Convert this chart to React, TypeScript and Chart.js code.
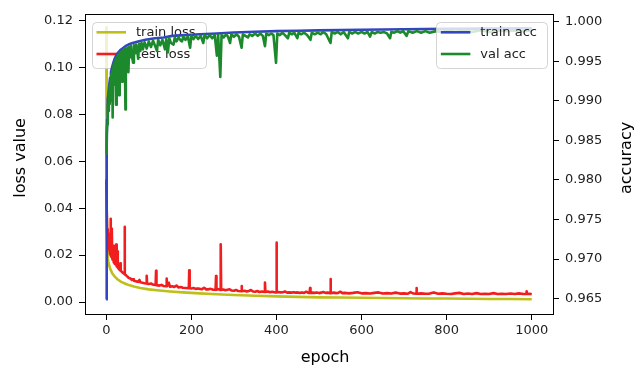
import React, { useEffect, useRef } from 'react';
import { Chart, registerables } from 'chart.js';

Chart.register(...registerables);

const FONT = "'DejaVu Sans', sans-serif";

const epochTicks = [0, 200, 400, 600, 800, 1000];
const lossTicks = [0, 0.02, 0.04, 0.06, 0.08, 0.1, 0.12];
const accTicks = [0.965, 0.97, 0.975, 0.98, 0.985, 0.99, 0.995, 1.0];

const seriesNames = ['train loss', 'test loss', 'train acc', 'val acc'];
const seriesColors = ['#bfbf1a', '#f01e1e', '#3346c0', '#1c8a2c'];

// [epoch, value]
const trainLoss: [number, number][] = [
  [0, 0.117], [1, 0.04], [2, 0.027], [3, 0.022], [4, 0.019], [5, 0.0172], [7, 0.0155], [10, 0.0138],
  [14, 0.0123], [20, 0.0108], [27, 0.0096], [35, 0.0086], [45, 0.0078], [55, 0.0071], [65, 0.0066],
  [80, 0.006], [100, 0.0054], [125, 0.0049], [150, 0.0045], [180, 0.0041], [220, 0.0037], [260, 0.0033],
  [300, 0.003], [350, 0.0027], [400, 0.0024], [450, 0.0022], [500, 0.002], [550, 0.0019], [600, 0.0018],
  [650, 0.0017], [700, 0.0016], [750, 0.0015], [800, 0.0015], [850, 0.0014], [900, 0.0013], [950, 0.0013],
  [1000, 0.0012],
];

const testLoss: [number, number][] = [
  [0, 0.052], [1, 0.04], [2, 0.031], [3, 0.027], [4, 0.025], [5, 0.0235], [6, 0.0225], [7, 0.029],
  [8, 0.0215], [9, 0.0205], [10, 0.0355], [11, 0.0198], [12, 0.0192], [13, 0.0313], [14, 0.0186],
  [15, 0.018], [16, 0.024], [17, 0.0174], [18, 0.017], [19, 0.0166], [20, 0.0163], [22, 0.016],
  [23, 0.0245], [24, 0.0155], [25, 0.0152], [26, 0.0216], [27, 0.0148], [28, 0.0145], [30, 0.014],
  [32, 0.0137], [33, 0.0165], [34, 0.0133], [36, 0.013], [38, 0.0126], [40, 0.0123], [42, 0.0121],
  [43, 0.032], [44, 0.0118], [46, 0.0115], [48, 0.0111], [50, 0.0108], [52, 0.0104], [55, 0.0101],
  [58, 0.0099], [60, 0.0094], [63, 0.0097], [65, 0.0091], [70, 0.0088], [75, 0.0086], [78, 0.0094],
  [80, 0.0084], [85, 0.0082], [90, 0.008], [94, 0.0079], [95, 0.0112], [96, 0.0078], [100, 0.0077],
  [105, 0.0079], [110, 0.0074], [116, 0.0073], [117, 0.0133], [118, 0.0072], [125, 0.007], [130, 0.0073],
  [135, 0.0068], [141, 0.0067], [142, 0.01], [143, 0.0067], [147, 0.0082], [150, 0.0065], [155, 0.0067],
  [160, 0.0064], [165, 0.007], [170, 0.0062], [175, 0.0064], [180, 0.0061], [187, 0.006], [194, 0.0059],
  [195, 0.0135], [196, 0.0059], [200, 0.0058], [205, 0.006], [210, 0.0056], [215, 0.0058], [220, 0.0056],
  [225, 0.0055], [230, 0.0061], [235, 0.0054], [240, 0.0054], [245, 0.0056], [250, 0.0053], [257, 0.0052],
  [258, 0.0111], [259, 0.0052], [263, 0.0055], [268, 0.0051], [269, 0.0246], [270, 0.0051], [275, 0.0053],
  [280, 0.005], [285, 0.0052], [290, 0.0054], [295, 0.0049], [300, 0.0048], [305, 0.0051], [310, 0.0047],
  [317, 0.0046], [318, 0.0068], [319, 0.0046], [325, 0.0048], [330, 0.0045], [335, 0.0047], [340, 0.0051],
  [345, 0.0045], [350, 0.0044], [355, 0.0047], [360, 0.0043], [366, 0.0045], [372, 0.0043], [373, 0.0083],
  [374, 0.0043], [380, 0.0045], [385, 0.0042], [390, 0.0044], [395, 0.0042], [399, 0.0041], [400, 0.0253],
  [401, 0.0041], [405, 0.0043], [410, 0.0041], [415, 0.0042], [420, 0.0045], [425, 0.004], [430, 0.0041],
  [435, 0.004], [440, 0.0042], [445, 0.004], [450, 0.0041], [455, 0.0039], [460, 0.0041], [465, 0.0039],
  [470, 0.0044], [475, 0.0039], [478, 0.0039], [479, 0.006], [480, 0.0039], [485, 0.004], [490, 0.0039],
  [495, 0.0041], [500, 0.0038], [505, 0.004], [510, 0.0043], [515, 0.0039], [520, 0.004], [526, 0.0038],
  [527, 0.0098], [528, 0.0038], [535, 0.004], [540, 0.0038], [545, 0.0039], [550, 0.0044], [555, 0.0038],
  [560, 0.0039], [570, 0.0037], [580, 0.0039], [590, 0.0042], [600, 0.0037], [610, 0.0038], [620, 0.0036],
  [630, 0.0039], [640, 0.0041], [650, 0.0036], [660, 0.0038], [670, 0.0036], [680, 0.004], [690, 0.0036],
  [700, 0.0037], [708, 0.0035], [715, 0.0042], [722, 0.0036], [728, 0.0035], [729, 0.006], [730, 0.0035],
  [740, 0.0037], [750, 0.0035], [760, 0.0036], [770, 0.0041], [780, 0.0035], [790, 0.0037], [800, 0.0035],
  [810, 0.0034], [820, 0.0037], [830, 0.0039], [840, 0.0034], [850, 0.0036], [860, 0.0034], [870, 0.0038],
  [880, 0.0034], [890, 0.0035], [900, 0.0034], [910, 0.0038], [920, 0.0034], [930, 0.0035], [940, 0.0034],
  [950, 0.0036], [960, 0.0034], [970, 0.0037], [980, 0.0034], [987, 0.0034], [988, 0.0046], [989, 0.0034],
  [995, 0.0035], [1000, 0.0033],
];

const trainAcc: [number, number][] = [
  [0, 0.9649], [1, 0.9842], [2, 0.9876], [3, 0.9893], [4, 0.9902], [5, 0.9909], [7, 0.992], [9, 0.9929],
  [11, 0.9936], [13, 0.9941], [16, 0.9947], [19, 0.9952], [23, 0.9957], [28, 0.9961], [33, 0.9964],
  [38, 0.9966], [45, 0.9969], [52, 0.9971], [62, 0.9973], [75, 0.9975], [92, 0.9977], [115, 0.9979],
  [135, 0.998], [155, 0.9982], [185, 0.9983], [220, 0.9984], [260, 0.9985], [300, 0.99862], [350, 0.99872],
  [400, 0.9988], [450, 0.99885], [500, 0.9989], [600, 0.99897], [700, 0.99903], [800, 0.99908],
  [900, 0.99912], [1000, 0.99916],
];

const valAcc: [number, number][] = [
  [0, 0.9833], [1, 0.9858], [2, 0.987], [3, 0.9884], [4, 0.9895], [5, 0.9887], [6, 0.991], [7, 0.9896],
  [8, 0.992], [9, 0.9905], [10, 0.9928], [11, 0.9912], [12, 0.9934], [13, 0.99], [14, 0.9938], [15, 0.9879],
  [16, 0.9942], [17, 0.9925], [18, 0.9946], [19, 0.993], [20, 0.9949], [21, 0.992], [22, 0.9952],
  [23, 0.9895], [24, 0.9954], [25, 0.9935], [26, 0.9956], [27, 0.9938], [28, 0.9958], [29, 0.9942],
  [30, 0.9907], [31, 0.996], [32, 0.994], [33, 0.9961], [34, 0.993], [35, 0.9962], [36, 0.9945],
  [37, 0.9924], [38, 0.9963], [39, 0.9948], [40, 0.9964], [41, 0.994], [42, 0.9965], [43, 0.995],
  [44, 0.9966], [45, 0.9889], [46, 0.9966], [48, 0.9955], [50, 0.9967], [52, 0.9936], [54, 0.9968],
  [56, 0.9955], [58, 0.9969], [60, 0.9958], [63, 0.9948], [65, 0.997], [68, 0.996], [70, 0.9971],
  [73, 0.9962], [75, 0.9953], [77, 0.9972], [80, 0.9963], [83, 0.9973], [86, 0.9965], [90, 0.9974],
  [95, 0.9966], [100, 0.9975], [105, 0.9968], [110, 0.9976], [115, 0.9969], [119, 0.9963], [122, 0.9977],
  [127, 0.997], [132, 0.9977], [138, 0.9965], [141, 0.9978], [145, 0.9961], [148, 0.9979], [152, 0.9973],
  [158, 0.9971], [161, 0.998], [165, 0.9975], [170, 0.998], [175, 0.9976], [178, 0.9975], [181, 0.9981],
  [186, 0.9977], [192, 0.9981], [197, 0.9967], [200, 0.9982], [205, 0.9978], [210, 0.9982], [216, 0.9978],
  [222, 0.9982], [228, 0.9973], [231, 0.9983], [237, 0.9979], [243, 0.9983], [249, 0.9979], [255, 0.9983],
  [260, 0.9957], [263, 0.9983], [268, 0.993], [271, 0.9983], [276, 0.998], [282, 0.9984], [286, 0.9981],
  [291, 0.9973], [294, 0.9984], [300, 0.9981], [306, 0.9984], [312, 0.9981], [318, 0.9967], [321, 0.9984],
  [327, 0.9982], [333, 0.998], [337, 0.9984], [343, 0.9982], [350, 0.9985], [356, 0.9982], [362, 0.9985],
  [368, 0.9982], [373, 0.9969], [376, 0.9985], [382, 0.9983], [388, 0.9985], [393, 0.9983], [399, 0.9948],
  [402, 0.9985], [408, 0.9983], [414, 0.9986], [420, 0.9983], [427, 0.9979], [430, 0.9986], [436, 0.9984],
  [442, 0.9986], [449, 0.9979], [452, 0.9986], [458, 0.9984], [465, 0.9986], [472, 0.9983], [480, 0.9977],
  [483, 0.9986], [490, 0.9984], [497, 0.9986], [504, 0.9984], [510, 0.9987], [517, 0.9984], [527, 0.9973],
  [530, 0.9987], [537, 0.9985], [544, 0.9987], [551, 0.9984], [558, 0.9987], [568, 0.9979], [571, 0.9987],
  [578, 0.9985], [585, 0.9987], [592, 0.9985], [600, 0.9987], [607, 0.9985], [614, 0.9987], [620, 0.9981],
  [624, 0.9987], [631, 0.9985], [638, 0.9987], [645, 0.9986], [652, 0.9987], [660, 0.9985], [667, 0.9979],
  [670, 0.9987], [677, 0.9986], [684, 0.9988], [691, 0.9986], [698, 0.9988], [706, 0.9982], [710, 0.9988],
  [720, 0.9986], [730, 0.9988], [740, 0.9986], [750, 0.9988], [760, 0.9986], [775, 0.9988], [790, 0.9987],
  [805, 0.9989], [820, 0.9987], [840, 0.9989], [860, 0.9987], [880, 0.9989], [900, 0.9987], [920, 0.9989],
  [940, 0.9988], [960, 0.9989], [980, 0.9988], [1000, 0.9989],
];

function roundRectPath(ctx: CanvasRenderingContext2D, x: number, y: number, w: number, h: number, r: number) {
  ctx.beginPath();
  ctx.moveTo(x + r, y);
  ctx.lineTo(x + w - r, y);
  ctx.arcTo(x + w, y, x + w, y + r, r);
  ctx.lineTo(x + w, y + h - r);
  ctx.arcTo(x + w, y + h, x + w - r, y + h, r);
  ctx.lineTo(x + r, y + h);
  ctx.arcTo(x, y + h, x, y + h - r, r);
  ctx.lineTo(x, y + r);
  ctx.arcTo(x, y, x + r, y, r);
  ctx.closePath();
}

function drawLegend(chart: any, side: 'left' | 'right', idx: number[]) {
  const { ctx, chartArea } = chart;
  ctx.save();
  ctx.font = `13px ${FONT}`;
  const tw = Math.max(...idx.map((i) => ctx.measureText(seriesNames[i]).width));
  const w = 44 + tw + 10;
  const h = 46;
  const x = side === 'left' ? chartArea.left + 7 : chartArea.right - 6 - w;
  const y = chartArea.top + 8;
  roundRectPath(ctx, Math.round(x) + 0.5, Math.round(y) + 0.5, Math.round(w), h, 4);
  ctx.fillStyle = 'rgba(255,255,255,0.8)';
  ctx.fill();
  ctx.strokeStyle = 'rgba(204,204,204,0.85)';
  ctx.lineWidth = 1;
  ctx.stroke();
  idx.forEach((si, k) => {
    const cy = y + 10.5 + k * 21.7;
    ctx.strokeStyle = seriesColors[si];
    ctx.lineWidth = 2.6;
    ctx.beginPath();
    ctx.moveTo(x + 4.5, cy);
    ctx.lineTo(x + 34, cy);
    ctx.stroke();
    ctx.fillStyle = '#222';
    ctx.textAlign = 'left';
    ctx.textBaseline = 'middle';
    ctx.fillText(seriesNames[si], x + 44, cy + 0.5);
  });
  ctx.restore();
}

const decorPlugin = {
  id: 'decor',
  afterDatasetDraw(chart: any, args: any) {
    if (args.index === 1) drawLegend(chart, 'left', [0, 1]);
  },
  afterDatasetsDraw(chart: any) {
    drawLegend(chart, 'right', [2, 3]);
  },
  afterDraw(chart: any) {
    const { ctx, chartArea } = chart;
    const { left, right, top, bottom } = chartArea;
    ctx.save();
    ctx.strokeStyle = '#000';
    ctx.lineWidth = 1;
    ctx.strokeRect(Math.round(left) + 0.5, Math.round(top) + 0.5, Math.round(right - left), Math.round(bottom - top));
    ctx.fillStyle = '#000';
    ctx.font = `16px ${FONT}`;
    ctx.textAlign = 'center';
    ctx.textBaseline = 'middle';
    const midY = (top + bottom) / 2 - 6;
    ctx.save();
    ctx.translate(21, midY);
    ctx.rotate(-Math.PI / 2);
    ctx.fillText('loss value', 0, 0);
    ctx.restore();
    ctx.save();
    ctx.translate(chart.width - 9, midY);
    ctx.rotate(-Math.PI / 2);
    ctx.fillText('accuracy', 0, 0);
    ctx.restore();
    ctx.fillText('epoch', (left + right) / 2 + 6, chart.height - 13);
    ctx.restore();
  },
};

const tickFont = { family: FONT, size: 13 };

export default function App() {
  const ref = useRef<HTMLCanvasElement | null>(null);
  useEffect(() => {
    if (!ref.current) return;
    const mk = (pts: [number, number][]) => pts.map(([x, y]) => ({ x, y }));
    const chart = new Chart(ref.current, {
      type: 'line',
      data: {
        datasets: [
          { label: seriesNames[0], data: mk(trainLoss), yAxisID: 'yLoss', borderColor: seriesColors[0], order: 4 },
          { label: seriesNames[1], data: mk(testLoss), yAxisID: 'yLoss', borderColor: seriesColors[1], order: 3 },
          { label: seriesNames[2], data: mk(trainAcc), yAxisID: 'yAcc', borderColor: seriesColors[2], order: 2 },
          { label: seriesNames[3], data: mk(valAcc), yAxisID: 'yAcc', borderColor: seriesColors[3], order: 1 },
        ].map((d) => ({
          ...d,
          borderWidth: 2.6,
          pointRadius: 0,
          pointHoverRadius: 0,
          fill: false,
          tension: 0,
          borderJoinStyle: 'round' as const,
        })),
      },
      options: {
        responsive: false,
        animation: false,
        events: [],
        layout: { padding: { top: 7, left: 0, right: 0, bottom: 0 } },
        plugins: { legend: { display: false }, tooltip: { enabled: false } },
        scales: {
          x: {
            type: 'linear',
            min: -50,
            max: 1050,
            afterBuildTicks: (s: any) => {
              s.ticks = epochTicks.map((v) => ({ value: v }));
            },
            afterFit: (s: any) => {
              s.height = 57;
            },
            ticks: {
              font: tickFont,
              color: '#222',
              padding: 3,
              maxRotation: 0,
              autoSkip: false,
              callback: (v: any) => String(v),
            },
            grid: { drawOnChartArea: false, drawTicks: true, tickLength: 6, color: '#000' },
            border: { display: false },
          },
          yLoss: {
            type: 'linear',
            position: 'left',
            min: -0.0051,
            max: 0.1228,
            afterBuildTicks: (s: any) => {
              s.ticks = lossTicks.map((v) => ({ value: v }));
            },
            afterFit: (s: any) => {
              s.width = 85;
            },
            ticks: {
              font: tickFont,
              color: '#222',
              padding: 6,
              autoSkip: false,
              callback: (v: any) => Number(v).toFixed(2),
            },
            grid: { drawOnChartArea: false, drawTicks: true, tickLength: 6, color: '#000' },
            border: { display: false },
          },
          yAcc: {
            type: 'linear',
            position: 'right',
            min: 0.96306,
            max: 1.00099,
            afterBuildTicks: (s: any) => {
              s.ticks = accTicks.map((v) => ({ value: v }));
            },
            afterFit: (s: any) => {
              s.width = 83;
            },
            ticks: {
              font: tickFont,
              color: '#222',
              padding: 6,
              autoSkip: false,
              callback: (v: any) => Number(v).toFixed(3),
            },
            grid: { drawOnChartArea: false, drawTicks: true, tickLength: 6, color: '#000' },
            border: { display: false },
          },
        },
      },
      plugins: [decorPlugin],
    } as any);
    return () => chart.destroy();
  }, []);
  return (
    <div style={{ position: 'fixed', left: 0, top: 0, width: 636, height: 371, background: '#fff' }}>
      <canvas ref={ref} width={636} height={371} style={{ display: 'block' }} />
    </div>
  );
}
